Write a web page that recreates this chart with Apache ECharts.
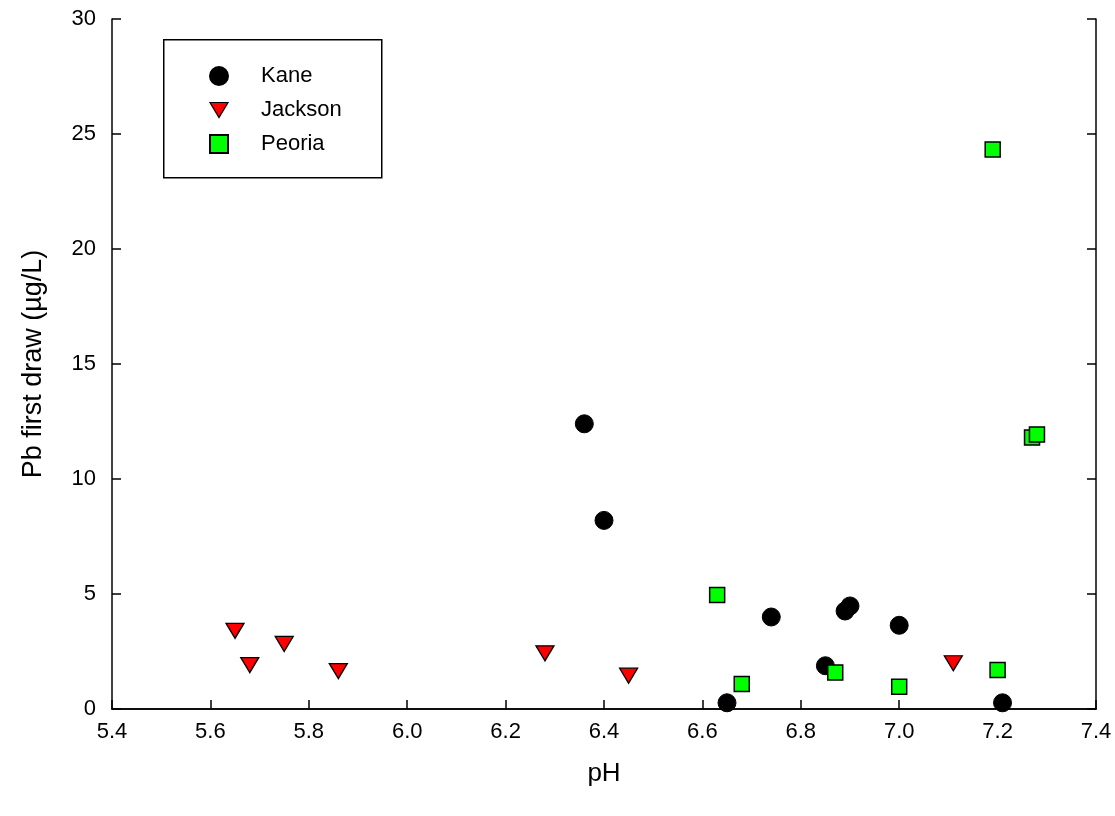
<!DOCTYPE html>
<html>
<head>
<meta charset="utf-8">
<script src="https://cdn.jsdelivr.net/npm/echarts@6/dist/echarts.min.js"></script>
<style>
html,body{margin:0;padding:0;background:#fff;}
#chart{width:1115px;height:816px;}
</style>
</head>
<body>
<div id="chart"></div>
<script>
// Data
var seriesNames = ['Kane', 'Jackson', 'Peoria'];
var kanePH = [6.36, 6.40, 6.74, 6.89, 6.90, 7.00, 6.85, 6.65, 7.21];
var kanePb = [12.4, 8.2, 4.0, 4.26, 4.48, 3.64, 1.88, 0.27, 0.27];
var jacksonPH = [5.65, 5.68, 5.75, 5.86, 6.28, 6.45, 7.11];
var jacksonPb = [3.40, 1.91, 2.83, 1.65, 2.42, 1.45, 1.99];
var peoriaPH = [7.19, 6.63, 6.68, 6.87, 7.00, 7.20, 7.27, 7.28];
var peoriaPb = [24.33, 4.96, 1.09, 1.59, 0.97, 1.70, 11.80, 11.94];
var xTicks = [5.4, 5.6, 5.8, 6.0, 6.2, 6.4, 6.6, 6.8, 7.0, 7.2, 7.4];
var yTicks = [0, 5, 10, 15, 20, 25, 30];

function pairs(xs, ys) { return xs.map(function (x, i) { return [x, ys[i]]; }); }

var chart = echarts.init(document.getElementById('chart'), null, {renderer: 'canvas'});
var font = 'Liberation Sans, Arial, sans-serif';
var axisLine = {show: true, lineStyle: {color: '#000', width: 1.5}};
var tick = {show: true, inside: true, length: 9, lineStyle: {color: '#000', width: 1.5}};
var downTri = 'path://M0,0 L18,0 L9,15 Z';

chart.setOption({
  animation: false,
  backgroundColor: '#fff',
  grid: {left: 112, right: 19, top: 19, bottom: 107, containLabel: false},
  graphic: [{
    type: 'rect', left: 163, top: 39, z: 0,
    shape: {width: 218, height: 138},
    style: {fill: '#fff', stroke: '#000', lineWidth: 1.5}
  }],
  legend: {
    orient: 'vertical', left: 204, top: 60, z: 10,
    itemWidth: 18, itemHeight: 18, itemGap: 12,
    data: [
      {name: 'Kane', icon: 'circle'},
      {name: 'Jackson', icon: downTri, itemStyle: {borderWidth: 1.2}},
      {name: 'Peoria', icon: 'rect'}
    ],
    textStyle: {fontFamily: font, fontSize: 22, color: '#000', padding: [0, 0, 0, 28]}
  },
  xAxis: [{
    type: 'value', min: 5.4, max: 7.4, interval: 0.2,
    name: 'pH', nameLocation: 'middle', nameGap: 52,
    nameTextStyle: {fontFamily: font, fontSize: 26, color: '#000'},
    axisLine: axisLine, axisTick: tick, splitLine: {show: false},
    axisLabel: {fontFamily: font, fontSize: 22, color: '#000', margin: 12,
      formatter: function (v) { return v.toFixed(1); }}
  }, {
    type: 'value', position: 'top', min: 5.4, max: 7.4, interval: 0.2,
    axisLine: axisLine, axisTick: {show: false}, axisLabel: {show: false}, splitLine: {show: false}
  }],
  yAxis: [{
    type: 'value', min: 0, max: 30, interval: 5,
    name: 'Pb first draw (\u00b5g/L)', nameLocation: 'middle', nameGap: 65,
    nameTextStyle: {fontFamily: font, fontSize: 27, color: '#000'},
    axisLine: axisLine, axisTick: tick, splitLine: {show: false},
    axisLabel: {fontFamily: font, fontSize: 22, color: '#000', margin: 16}
  }, {
    type: 'value', position: 'right', min: 0, max: 30, interval: 5,
    axisLine: axisLine, axisTick: tick, axisLabel: {show: false}, splitLine: {show: false}
  }],
  series: [{
    name: 'Kane', type: 'scatter', symbol: 'circle', symbolSize: 18,
    itemStyle: {color: '#000', borderColor: '#000', borderWidth: 1, opacity: 1},
    data: pairs(kanePH, kanePb)
  }, {
    name: 'Jackson', type: 'scatter', symbol: 'triangle', symbolRotate: 180, symbolSize: [18, 15],
    itemStyle: {color: '#ff0000', borderColor: '#000', borderWidth: 1.3, opacity: 1},
    data: pairs(jacksonPH, jacksonPb)
  }, {
    name: 'Peoria', type: 'scatter', symbol: 'rect', symbolSize: 15,
    itemStyle: {color: '#00ff00', borderColor: '#000', borderWidth: 1.5, opacity: 1},
    data: pairs(peoriaPH, peoriaPb)
  }]
});
</script>
</body>
</html>
